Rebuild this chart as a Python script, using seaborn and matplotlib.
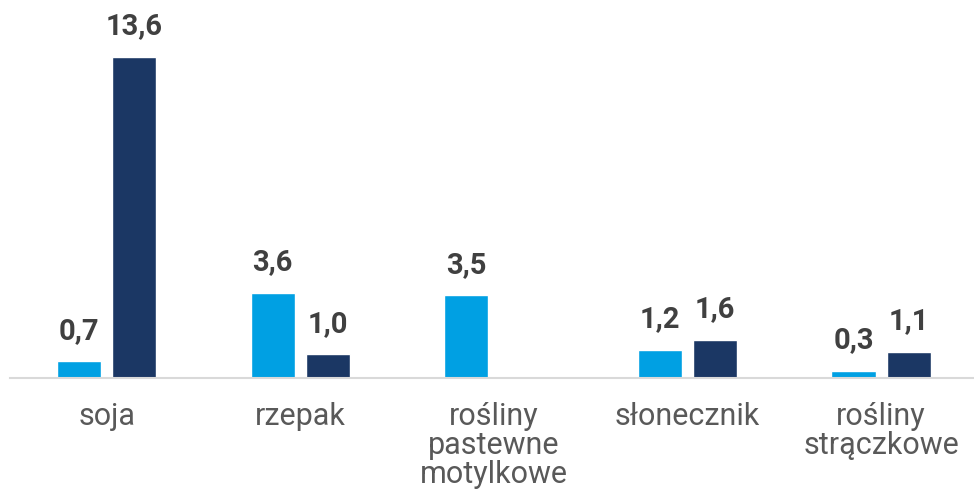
import numpy as np
import pandas as pd
import matplotlib
matplotlib.use("Agg")
import matplotlib.pyplot as plt
import seaborn as sns

# data
categories = ["soja", "rzepak", "rośliny\npastewne\nmotylkowe", "słonecznik", "rośliny\nstrączkowe"]
series_names = ["seria 1", "seria 2"]
values_light = [0.7, 3.6, 3.5, 1.2, 0.3]
values_dark = [13.6, 1.0, np.nan, 1.6, 1.1]
colors = ["#00A0E3", "#1B3764"]

df = pd.DataFrame({
    "kategoria": categories * 2,
    "seria": [series_names[0]] * 5 + [series_names[1]] * 5,
    "wartosc": values_light + values_dark,
})

sns.set_style("white")
plt.rcParams["font.family"] = ["Roboto", "DejaVu Sans"]

fig = plt.figure(figsize=(9.74, 4.92), dpi=100)
ax = fig.add_axes([10 / 974, 114 / 492, 964 / 974, 368 / 492])

sns.barplot(data=df, x="kategoria", y="wartosc", hue="seria", order=categories,
            hue_order=series_names, palette=colors, width=0.57, gap=0.2,
            saturation=1, errorbar=None, legend=False, ax=ax)

for cont in ax.containers:
    ax.bar_label(cont, fmt=lambda v: f"{v:.1f}".replace(".", ","), padding=12,
                 fontsize=21, fontweight="bold", color="#404040")

ax.set_xlim(-0.5, 4.48)
ax.set_ylim(0, 15.6)
ax.set_xlabel("")
ax.set_ylabel("")
ax.set_yticks([])
for s in ["top", "left", "right"]:
    ax.spines[s].set_visible(False)
ax.spines["bottom"].set_color("#D9D9D9")
ax.spines["bottom"].set_linewidth(1.5)
ax.tick_params(axis="x", length=0, pad=17, labelsize=22, labelcolor="#595959")
for t in ax.get_xticklabels():
    t.set_linespacing(1.0)
    t.set_verticalalignment("top")

fig.savefig("out.png", dpi=100)
